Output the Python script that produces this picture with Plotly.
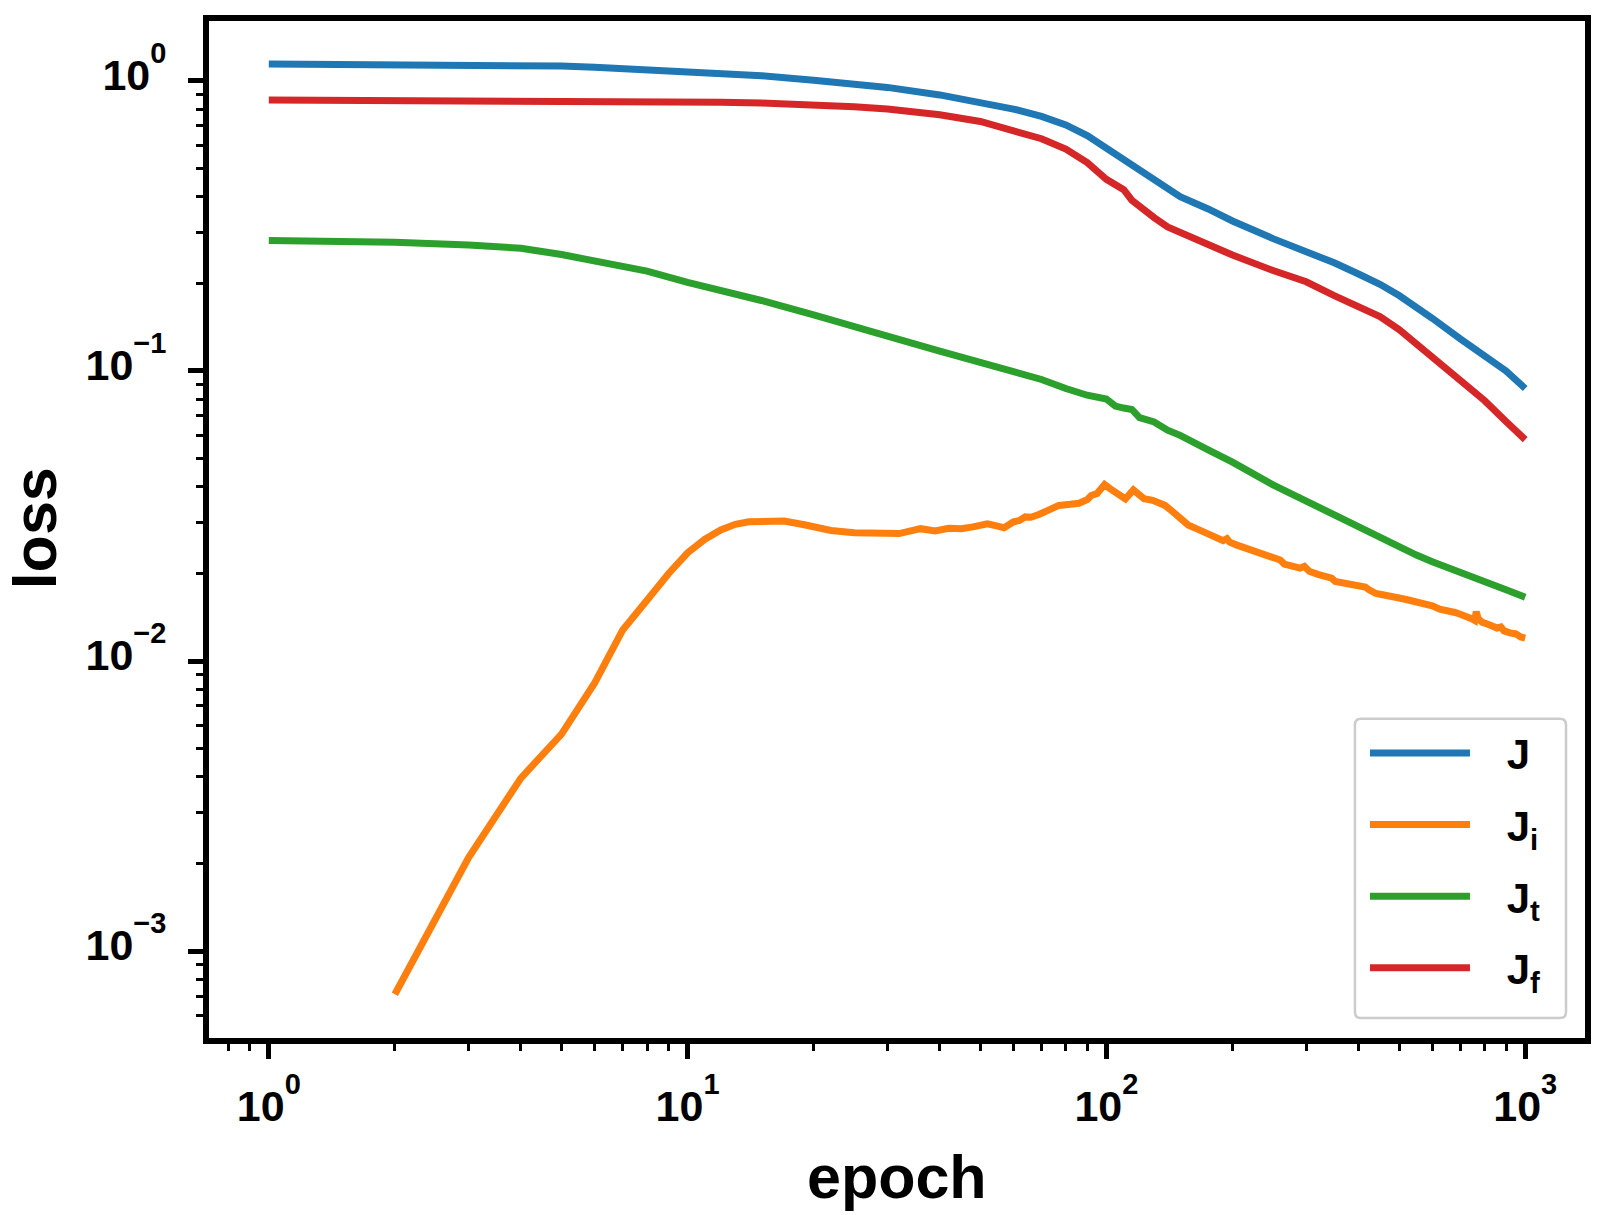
import plotly.graph_objects as go

# epochs sampled for the smooth curves
epochs = [1, 2, 3, 4, 5, 6, 7, 8, 10, 12, 15, 20, 25, 30, 40, 50, 60, 70, 80, 90,
          100, 105, 110, 115, 120, 130, 140, 150, 175, 200, 250, 300, 350, 400,
          450, 500, 550, 600, 700, 800, 900, 1000]

J = [1.145, 1.143, 1.140, 1.135, 1.125, 1.115, 1.105, 1.095, 1.080, 1.065, 1.043,
     1.005, 0.975, 0.950, 0.895, 0.845, 0.800, 0.755, 0.705, 0.648,
     0.585, 0.560, 0.533, 0.512, 0.490, 0.452, 0.420, 0.399, 0.362, 0.329,
     0.286, 0.258, 0.236, 0.216, 0.199, 0.182, 0.166, 0.152, 0.129, 0.113,
     0.100, 0.087]

J_t = [0.2816, 0.278, 0.272, 0.265, 0.252, 0.240, 0.230, 0.221, 0.202, 0.190, 0.175,
       0.156, 0.143, 0.132, 0.117, 0.107, 0.099, 0.0935, 0.087, 0.0825,
       0.0800, 0.0757, 0.0745, 0.0737, 0.0690, 0.0667, 0.0625, 0.0600, 0.0535, 0.0485,
       0.0405, 0.0355, 0.0318, 0.0289, 0.0268, 0.0247, 0.0232, 0.0220, 0.0201, 0.0187,
       0.0176, 0.0166]

J_f = [0.860, 0.858, 0.857, 0.856, 0.855, 0.854, 0.852, 0.851, 0.848, 0.844, 0.839,
       0.828, 0.815, 0.800, 0.765, 0.725, 0.675, 0.632, 0.582, 0.523,
       0.458, 0.442, 0.422, 0.388, 0.372, 0.338, 0.314, 0.300, 0.272, 0.251,
       0.222, 0.203, 0.182, 0.167, 0.154, 0.139, 0.124, 0.113, 0.094, 0.079,
       0.067, 0.058]

# J_i is noisy, so it gets its own (denser) epoch list
epochs_i = [2, 3, 4, 5, 6, 7, 8, 9, 10, 11, 12, 13, 14, 15, 16, 17, 19, 22, 25, 28,
            32, 36, 39, 42, 45, 48, 52, 55, 57, 60, 62, 64, 66, 69, 73, 77, 82, 86,
            90, 92, 95, 99, 102, 106, 111, 116, 119, 123, 129, 134, 138, 143, 148,
            153, 157, 165, 172, 180, 184, 190, 194, 197, 205, 215, 228, 236, 245,
            252, 260, 266, 280, 290, 297, 305, 320, 335, 345, 352, 370, 390, 405,
            415, 424, 440, 460, 480, 500, 520, 552, 575, 600, 625, 650, 680, 700,
            725, 745, 758, 764, 772, 790, 815, 840, 856, 875, 890, 920, 950, 975, 1000]

J_i = [0.00071, 0.0021, 0.00395, 0.0056, 0.0084, 0.0128, 0.0162, 0.0200, 0.0236, 0.0263,
       0.0283, 0.0296, 0.0302, 0.0304, 0.0305, 0.0304, 0.0295, 0.0282, 0.0277, 0.0275,
       0.0275, 0.0286, 0.0281, 0.0287, 0.0286, 0.0290, 0.0297, 0.0292, 0.0288, 0.0302,
       0.0305, 0.0314, 0.0313, 0.0320, 0.0334, 0.0344, 0.0347, 0.0350, 0.0360, 0.0372,
       0.0378, 0.0406, 0.0393, 0.0377, 0.0362, 0.0389, 0.0377, 0.0363, 0.0358, 0.0352,
       0.0344, 0.0330, 0.0315, 0.0303, 0.0294, 0.0285, 0.0278, 0.0268, 0.0264, 0.0260,
       0.0264, 0.0257, 0.0251, 0.0245, 0.0238, 0.0232, 0.0228, 0.0225, 0.0223, 0.0216,
       0.0212, 0.0209, 0.0212, 0.0204, 0.0199, 0.0194, 0.0193, 0.0188, 0.0185, 0.0182,
       0.0179, 0.0180, 0.0176, 0.0171, 0.0169, 0.0168, 0.0165, 0.0163, 0.0160, 0.0157,
       0.0155, 0.0151, 0.0150, 0.0147, 0.0145, 0.0143, 0.0140, 0.0138, 0.0148, 0.0140,
       0.0136, 0.0134, 0.0131, 0.0130, 0.0131, 0.0127, 0.0125, 0.0124, 0.0121, 0.0120]

# matplotlib-like superscript: smaller and raised well above the digits
SUP = "<span style='font-size:29px;baseline-shift:27px'>{}</span>"
x_ticks = [1, 10, 100, 1000]
x_ticktext = ["10" + SUP.format(p) for p in ["0", "1", "2", "3"]]
y_ticks = [0.001, 0.01, 0.1, 1]
y_ticktext = ["10" + SUP.format(p) for p in ["\u22123", "\u22122", "\u22121", "0"]]
minor_vals = [m * 10.0 ** k for k in range(-4, 4) for m in range(2, 10)]

FONT = "Liberation Sans, Arial, sans-serif"
NB = "\u00a0\u00a0\u2009"  # gap between legend line and label

series = [
    ("J", epochs, J, "#1f77b4"),
    ("J<sub>i</sub>", epochs_i, J_i, "#ff7f0e"),
    ("J<sub>t</sub>", epochs, J_t, "#2ca02c"),
    ("J<sub>f</sub>", epochs, J_f, "#d62728"),
]

fig = go.Figure()
for name, xs, ys, col in series:
    fig.add_trace(go.Scatter(x=xs, y=ys, mode="lines", name=NB + name + "\u00a0\u00a0",
                             legendgroup=name, line=dict(color=col, width=7)))

# legend frame (light grey, rounded corners) drawn as a paper shape
x0, x1, y0, y1 = 0.8328, 0.9862, 0.0196, 0.3138
rx, ry = 0.0045, 0.006
frame = (f"M{x0+rx},{y0} L{x1-rx},{y0} Q{x1},{y0} {x1},{y0+ry} "
         f"L{x1},{y1-ry} Q{x1},{y1} {x1-rx},{y1} L{x0+rx},{y1} "
         f"Q{x0},{y1} {x0},{y1-ry} L{x0},{y0+ry} Q{x0},{y0} {x0+rx},{y0} Z")

fig.update_layout(
    width=1592, height=1207,
    paper_bgcolor="white", plot_bgcolor="white",
    margin=dict(l=201, r=15, t=7, b=177),
    font=dict(family=FONT, size=42, color="black", weight="bold"),
    showlegend=True,
    legend=dict(x=0.8401, y=0.3135, xanchor="left", yanchor="top",
                bgcolor="rgba(0,0,0,0)", borderwidth=0,
                font=dict(size=42, family=FONT, weight="bold"),
                itemwidth=100, tracegroupgap=14, traceorder="grouped"),
    shapes=[dict(type="path", path=frame, xref="paper", yref="paper",
                 line=dict(color="#cccccc", width=2.5), fillcolor="white",
                 layer="above")],
    annotations=[
        dict(text="epoch", x=0.5, y=-0.137, xref="paper", yref="paper",
             xanchor="center", yanchor="middle", showarrow=False,
             font=dict(size=61, family=FONT, weight="bold")),
        dict(text="loss", x=-0.1262, y=0.5015, xref="paper", yref="paper",
             xanchor="center", yanchor="middle", showarrow=False, textangle=-90,
             font=dict(size=61, family=FONT, weight="bold")),
    ],
)

axis_common = dict(
    showgrid=False, zeroline=False,
    showline=True, linecolor="black", linewidth=6, mirror=True,
    ticks="outside", ticklen=15, tickwidth=5, tickcolor="black",
    tickfont=dict(size=43, family=FONT, weight="bold"),
    minor=dict(tickvals=minor_vals, ticks="outside", ticklen=7, tickwidth=2.5,
               tickcolor="black", showgrid=False),
)

fig.update_xaxes(type="log", range=[-0.1428, 3.1428], tickvals=x_ticks,
                 ticktext=x_ticktext, ticklabelstandoff=10, **axis_common)
fig.update_yaxes(type="log", range=[-3.2997, 0.2067], tickvals=y_ticks,
                 ticktext=y_ticktext, ticklabelstandoff=13, ticklabelshift=-6,
                 **axis_common)

fig.write_html("out.html")
